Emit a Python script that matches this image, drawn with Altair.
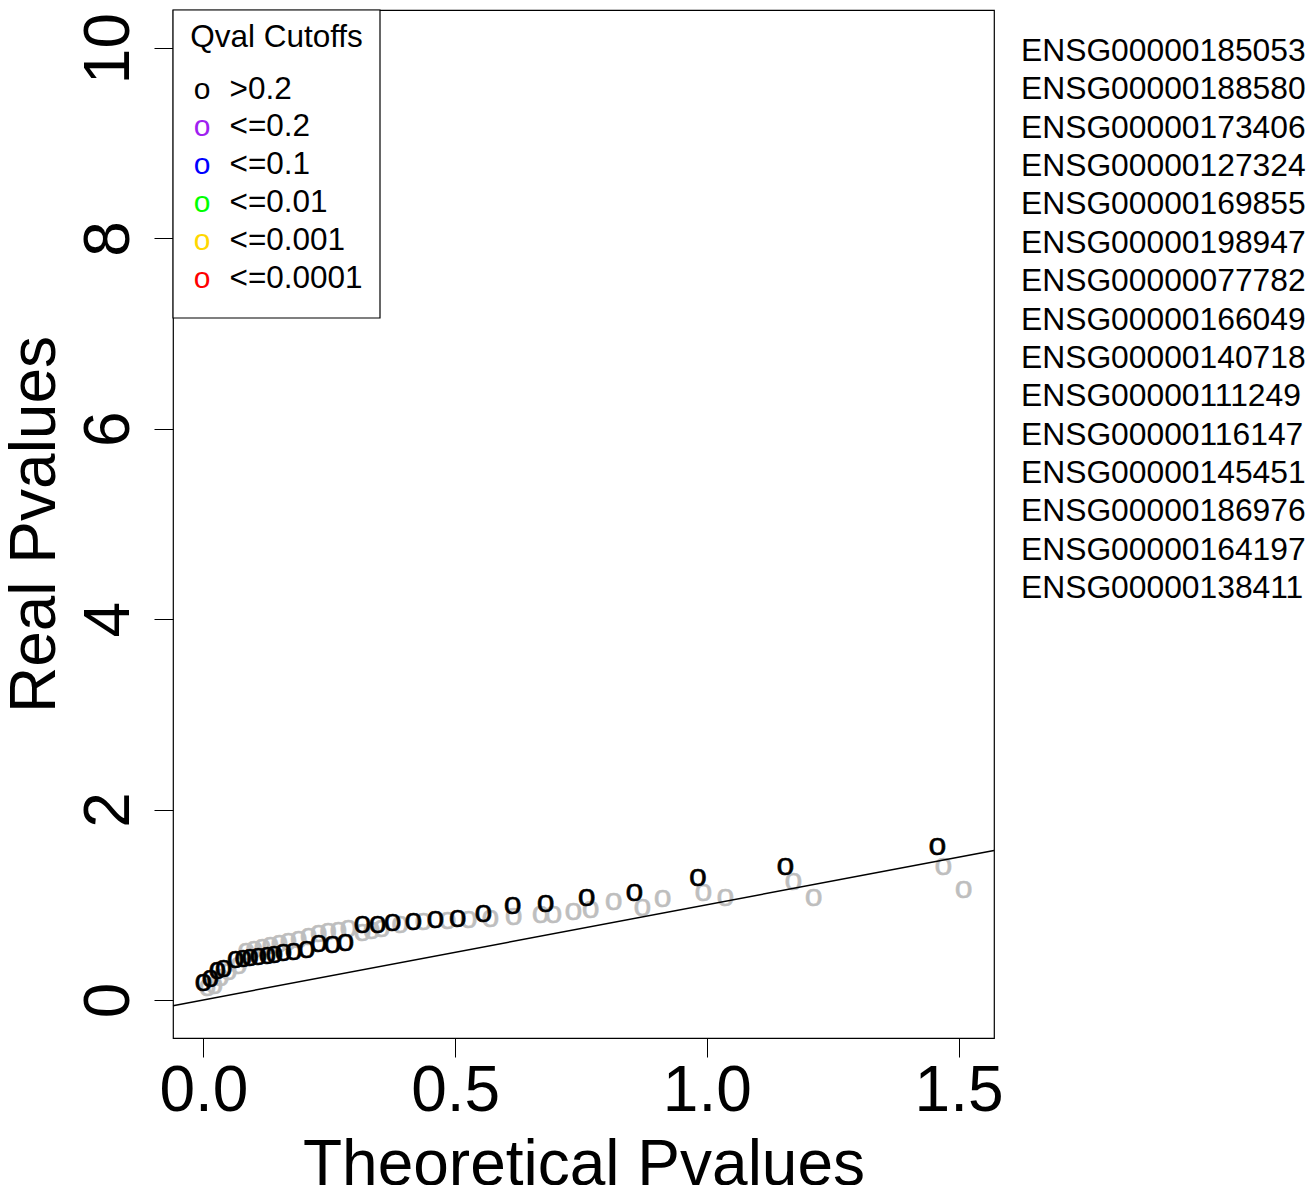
import altair as alt
import pandas as pd

# ---- data ----
black_x = [0.000, 0.014, 0.028, 0.040, 0.064, 0.079, 0.093, 0.109, 0.127, 0.141,
           0.159, 0.179, 0.205, 0.229, 0.256, 0.282, 0.316, 0.346, 0.376, 0.417,
           0.461, 0.505, 0.556, 0.614, 0.680, 0.761, 0.856, 0.982, 1.156, 1.458]
black_y = [0.179, 0.221, 0.305, 0.326, 0.420, 0.431, 0.441, 0.452, 0.462, 0.473,
           0.494, 0.504, 0.525, 0.588, 0.578, 0.599, 0.788, 0.788, 0.809, 0.819,
           0.840, 0.851, 0.903, 0.987, 1.008, 1.071, 1.124, 1.282, 1.397, 1.607]

gray_x = [0.008, 0.022, 0.034, 0.050, 0.070, 0.085, 0.101, 0.117, 0.133, 0.151,
          0.169, 0.189, 0.209, 0.229, 0.248, 0.268, 0.288, 0.316, 0.334, 0.354,
          0.391, 0.437, 0.485, 0.527, 0.570, 0.616, 0.670, 0.695, 0.735, 0.769,
          0.815, 0.872, 0.912, 0.993, 1.037, 1.172, 1.212, 1.470, 1.510]
gray_y = [0.126, 0.147, 0.231, 0.294, 0.357, 0.504, 0.525, 0.546, 0.567, 0.588,
          0.609, 0.630, 0.662, 0.693, 0.714, 0.725, 0.746, 0.704, 0.725, 0.746,
          0.788, 0.819, 0.830, 0.840, 0.851, 0.872, 0.893, 0.893, 0.924, 0.945,
          1.029, 0.966, 1.061, 1.124, 1.071, 1.239, 1.071, 1.397, 1.155]

legend_title = "Qval Cutoffs"
legend_labels = [">0.2", "<=0.2", "<=0.1", "<=0.01", "<=0.001", "<=0.0001"]
legend_colors = ["#000000", "#A020F0", "#0000FF", "#00FF00", "#FFD700", "#FF0000"]

gene_names = ["ENSG00000185053", "ENSG00000188580", "ENSG00000173406",
              "ENSG00000127324", "ENSG00000169855", "ENSG00000198947",
              "ENSG00000077782", "ENSG00000166049", "ENSG00000140718",
              "ENSG00000111249", "ENSG00000116147", "ENSG00000145451",
              "ENSG00000186976", "ENSG00000164197", "ENSG00000138411"]

x_ticks = [0.0, 0.5, 1.0, 1.5]
y_ticks = [0, 2, 4, 6, 8, 10]
x_domain = [-0.0604, 1.5704]
y_domain = [-0.4, 10.4]

FONT = "Liberation Sans"
W, H = 821, 1028

xs = alt.Scale(domain=x_domain, nice=False, zero=False)
ys = alt.Scale(domain=y_domain, nice=False, zero=False)

x_axis = alt.Axis(values=x_ticks, format=".1f", grid=False, domain=False,
                  tickSize=19, tickColor="black", tickWidth=1,
                  labelFont=FONT, labelFontSize=64, labelColor="black",
                  labelPadding=53, labelBaseline="alphabetic", labelFlush=False,
                  title="Theoretical Pvalues", titleFont=FONT, titleFontSize=64,
                  titleFontWeight="normal", titleColor="black",
                  titleX=W / 2, titleY=146, titleBaseline="alphabetic",
                  titleAlign="center")
y_axis = alt.Axis(values=y_ticks, format="d", grid=False, domain=False,
                  tickSize=19, tickColor="black", tickWidth=1,
                  labelFont=FONT, labelFontSize=64, labelColor="black",
                  labelAngle=270, labelAlign="center", labelBaseline="alphabetic",
                  labelPadding=26, labelFlush=False,
                  title="Real Pvalues", titleFont=FONT, titleFontSize=64,
                  titleFontWeight="normal", titleColor="black",
                  titleAngle=270, titleX=-119, titleY=H / 2,
                  titleBaseline="alphabetic", titleAlign="center")

gray_df = pd.DataFrame({"x": gray_x, "y": gray_y})
black_df = pd.DataFrame({"x": black_x, "y": black_y})
line_df = pd.DataFrame({"x": x_domain, "y": x_domain})

pt_kw = dict(text="o", font=FONT, fontSize=32, baseline="alphabetic", dy=8.5,
             align="center", strokeWidth=0.6)

gray_layer = alt.Chart(gray_df).mark_text(color="#BEBEBE", stroke="#BEBEBE",
                                          **pt_kw).encode(
    x=alt.X("x:Q", scale=xs, axis=x_axis),
    y=alt.Y("y:Q", scale=ys, axis=y_axis),
)
black_layer = alt.Chart(black_df).mark_text(color="black", stroke="black",
                                            **pt_kw).encode(
    x=alt.X("x:Q", scale=xs),
    y=alt.Y("y:Q", scale=ys),
)
line_layer = alt.Chart(line_df).mark_line(color="black", strokeWidth=1.5).encode(
    x=alt.X("x:Q", scale=xs),
    y=alt.Y("y:Q", scale=ys),
)

one = pd.DataFrame({"a": [0]})
legend_box = alt.Chart(one).mark_rect(fill="white", stroke="black",
                                      strokeWidth=1.2).encode(
    x=alt.value(0), x2=alt.value(207), y=alt.value(0), y2=alt.value(308))
legend_head = alt.Chart(one).mark_text(
    text=legend_title, font=FONT, fontSize=31.5, align="center",
    baseline="alphabetic", color="black").encode(
    x=alt.value(103.5), y=alt.value(37))

leg_df = pd.DataFrame({"label": legend_labels, "col": legend_colors,
                       "i": list(range(len(legend_labels)))})
leg_sym = alt.Chart(leg_df).transform_calculate(
    py="88.5 + 37.8 * datum.i").mark_text(
    text="o", font=FONT, fontSize=30, align="center", baseline="alphabetic").encode(
    x=alt.value(29),
    y=alt.Y("py:Q", scale=None),
    color=alt.Color("col:N", scale=None),
)
leg_lab = alt.Chart(leg_df).transform_calculate(
    py="88.5 + 37.8 * datum.i").mark_text(
    font=FONT, fontSize=31.5, align="left", baseline="alphabetic",
    color="black").encode(
    x=alt.value(56.5),
    y=alt.Y("py:Q", scale=None),
    text="g:N" if False else "label:N",
)

gene_df = pd.DataFrame({"g": gene_names, "i": list(range(len(gene_names)))})
gene_layer = alt.Chart(gene_df).transform_calculate(
    py="51 + 38.36 * datum.i").mark_text(
    font=FONT, fontSize=31.8, align="left", baseline="alphabetic",
    color="black").encode(
    x=alt.value(848),
    y=alt.Y("py:Q", scale=None),
    text="g:N",
)

chart = alt.layer(
    gray_layer, black_layer, line_layer, legend_box, legend_head,
    leg_sym, leg_lab, gene_layer
).properties(
    width=W, height=H,
    autosize=alt.AutoSizeParams(type="none"),
    padding={"left": 165, "top": 2, "right": 312, "bottom": 147},
    background="white",
).configure_view(
    stroke="black", strokeWidth=1.2, fill="white"
)

chart.save("out.html", embed_options={"renderer": "svg", "actions": False})
